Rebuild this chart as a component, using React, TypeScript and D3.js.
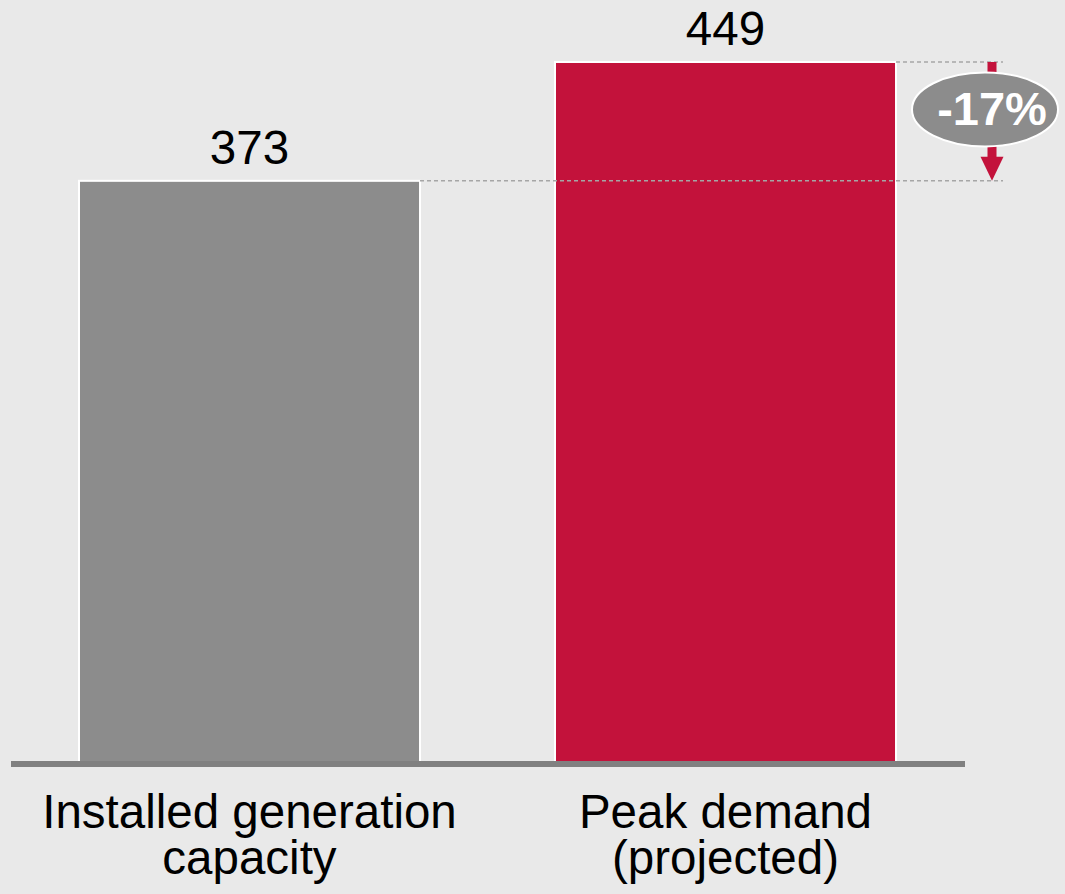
import React, {useEffect, useRef} from 'react';
import * as d3 from 'd3';

// chart values
const categories = ['Installed generation\ncapacity', 'Peak demand\n(projected)'];
const values = [373, 449];
const barColors = ['#8c8c8c', '#c3123b'];
const gapLabel = '-17%';

const WIDTH = 1065;
const HEIGHT = 894;
const FONT = '"Liberation Sans", Arial, sans-serif';

const App: React.FC = () => {
  const svgRef = useRef<SVGSVGElement>(null);

  useEffect(() => {
    const root = d3.select(svgRef.current);
    root.selectAll('*').remove();

    // background
    root
      .append('rect')
      .attr('width', WIDTH)
      .attr('height', HEIGHT)
      .attr('fill', '#e9e9e9');

    // x band scale for the two bars
    const x = d3
      .scaleBand()
      .domain(categories)
      .range([79, 896])
      .paddingInner(0.2836)
      .paddingOuter(0);

    // y scale, zero sits on the axis line
    const y = d3.scaleLinear().domain([0, d3.max(values)]).range([764, 62]);

    const data = categories.map((c, i) => ({name: c, value: values[i], color: barColors[i]}));

    // bars
    root
      .selectAll('.bar')
      .data(data)
      .enter()
      .append('rect')
      .attr('class', 'bar')
      .attr('x', (d) => x(d.name))
      .attr('y', (d) => y(d.value))
      .attr('width', x.bandwidth())
      .attr('height', (d) => y(0) - y(d.value))
      .attr('fill', (d) => d.color)
      .attr('stroke', '#ffffff')
      .attr('stroke-width', 2);

    // axis baseline
    root
      .append('line')
      .attr('x1', 11)
      .attr('x2', 965)
      .attr('y1', y(0))
      .attr('y2', y(0))
      .attr('stroke', '#808080')
      .attr('stroke-width', 6);

    // value labels
    root
      .selectAll('.value')
      .data(data)
      .enter()
      .append('text')
      .attr('class', 'value')
      .attr('x', (d) => x(d.name) + x.bandwidth() / 2)
      .attr('y', (d) => y(d.value) - 17)
      .attr('text-anchor', 'middle')
      .attr('font-family', FONT)
      .attr('font-size', 47.5)
      .attr('fill', '#000')
      .text((d) => d.value);

    // category labels (two lines each)
    const cat = root
      .selectAll('.cat')
      .data(data)
      .enter()
      .append('text')
      .attr('class', 'cat')
      .attr('text-anchor', 'middle')
      .attr('font-family', FONT)
      .attr('font-size', 47.5)
      .attr('fill', '#000');
    cat
      .selectAll('tspan')
      .data((d) => d.name.split('\n').map((t) => ({t, cx: x(d.name) + x.bandwidth() / 2})))
      .enter()
      .append('tspan')
      .attr('x', (d) => d.cx)
      .attr('y', (d, i) => 828 + i * 46)
      .text((d) => d.t);

    // dashed guides from the bar tops
    const guideEnd = 1003;
    const lowTop = y(values[0]);
    const highTop = y(values[1]);
    root
      .append('line')
      .attr('x1', x(categories[0]) + x.bandwidth())
      .attr('x2', guideEnd)
      .attr('y1', lowTop)
      .attr('y2', lowTop)
      .attr('stroke', '#a6a6a6')
      .attr('stroke-width', 1.5)
      .attr('stroke-dasharray', '4,3');
    root
      .append('line')
      .attr('x1', x(categories[1]) + x.bandwidth())
      .attr('x2', guideEnd)
      .attr('y1', highTop)
      .attr('y2', highTop)
      .attr('stroke', '#a6a6a6')
      .attr('stroke-width', 1.5)
      .attr('stroke-dasharray', '4,3');

    // arrow going down from the high value to the low value
    const ax = 992;
    root
      .append('line')
      .attr('x1', ax)
      .attr('x2', ax)
      .attr('y1', highTop)
      .attr('y2', lowTop - 22)
      .attr('stroke', '#c3123b')
      .attr('stroke-width', 9);
    root
      .append('path')
      .attr('d', `M${ax - 11.5},${lowTop - 24}L${ax + 11.5},${lowTop - 24}L${ax},${lowTop}Z`)
      .attr('fill', '#c3123b');

    // percentage bubble
    const cy = (highTop + lowTop) / 2 - 12;
    root
      .append('ellipse')
      .attr('cx', 985)
      .attr('cy', cy)
      .attr('rx', 73)
      .attr('ry', 37)
      .attr('fill', '#8c8c8c')
      .attr('stroke', '#ffffff')
      .attr('stroke-width', 2);
    root
      .append('text')
      .attr('x', 992)
      .attr('y', cy + 16)
      .attr('text-anchor', 'middle')
      .attr('font-family', FONT)
      .attr('font-weight', 'bold')
      .attr('font-size', 47)
      .attr('fill', '#ffffff')
      .text(gapLabel);
  }, []);

  return (
    <svg
      ref={svgRef}
      width={WIDTH}
      height={HEIGHT}
      style={{position: 'absolute', left: 0, top: 0, display: 'block'}}
    />
  );
};

export default App;
